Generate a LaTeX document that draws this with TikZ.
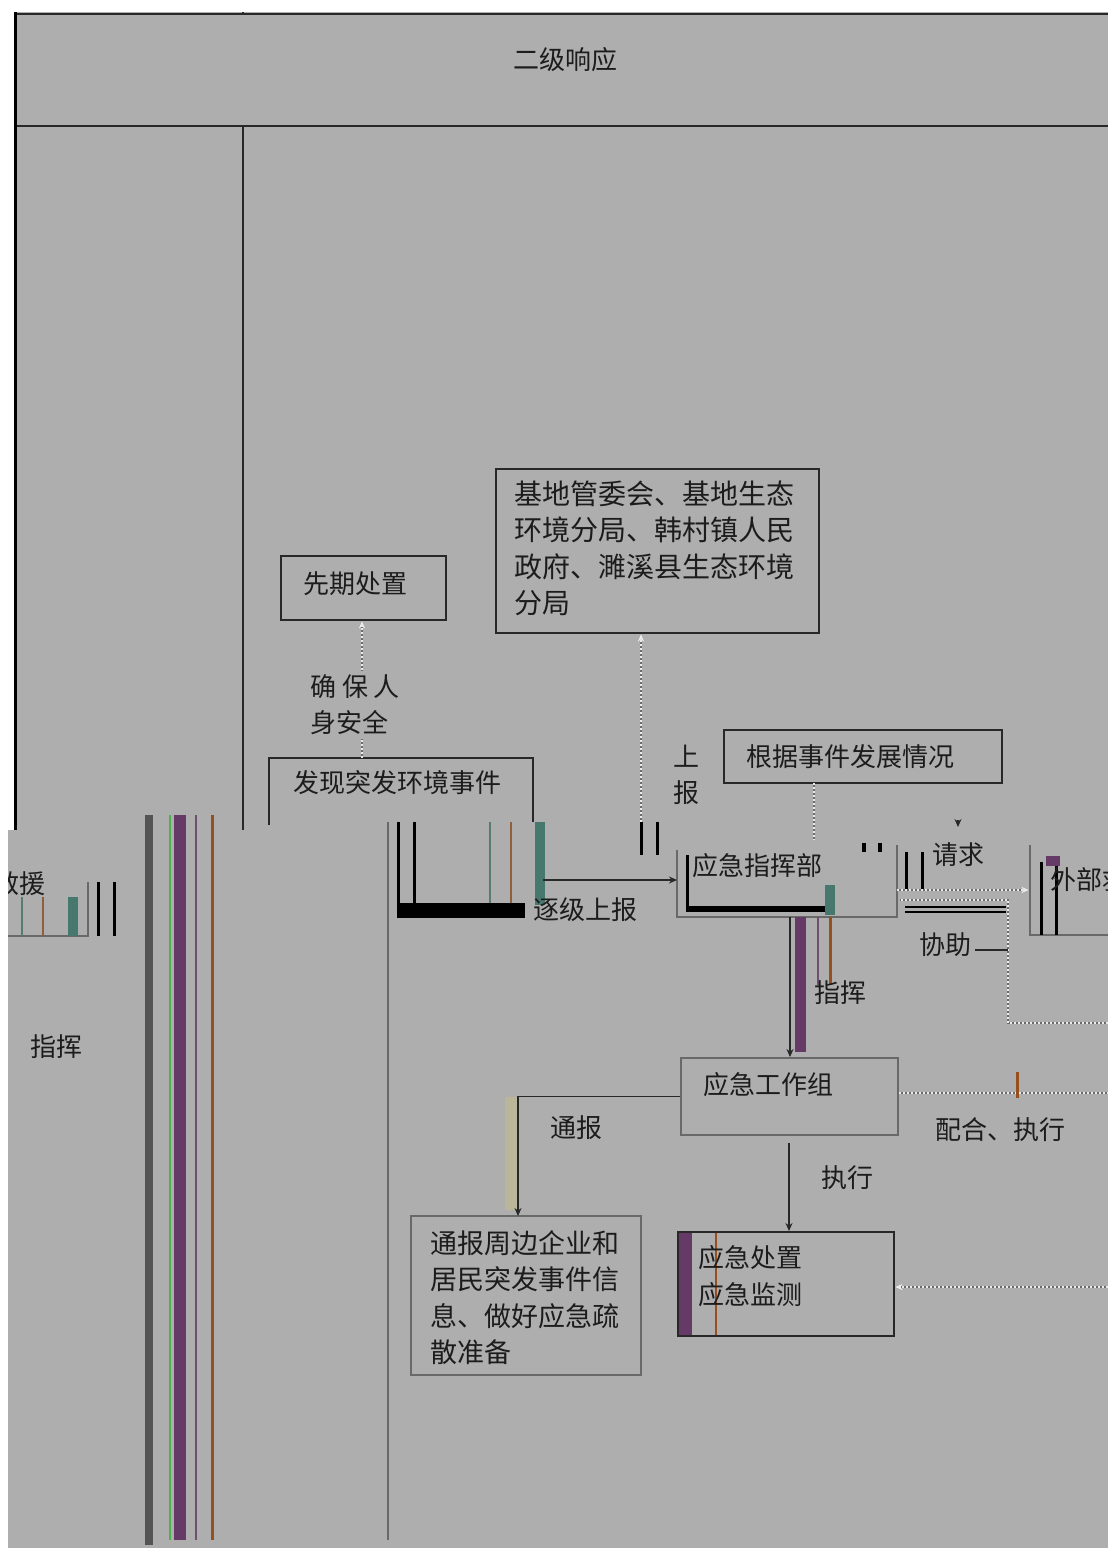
\documentclass[tikz,border=0pt]{standalone}
\usepackage{fontspec}
\setmainfont{Noto Sans CJK SC}
\usetikzlibrary{arrows.meta}
\definecolor{bg}{RGB}{174,174,174}
\definecolor{ink}{RGB}{28,28,28}
\definecolor{edge}{RGB}{40,40,40}
\definecolor{soft}{RGB}{105,105,105}
\definecolor{purp}{RGB}{102,58,102}
\definecolor{beige}{RGB}{186,182,154}
\definecolor{rust}{RGB}{150,80,30}
\definecolor{teal}{RGB}{70,120,110}
\tikzset{
  txt/.style={font=\fontsize{13}{18}\selectfont, text=ink, inner sep=0pt},
  box/.style={draw=edge, line width=1pt, inner sep=0pt},
  graybox/.style={draw=soft, line width=1pt, inner sep=0pt},
  solidline/.style={draw=edge, line width=0.7pt},
  tip/.style={-{Stealth[length=4pt,width=3.5pt]}},
  dotline/.style={draw=white!92!black, densely dotted, line width=1pt,
     preaction={draw=soft, solid, line width=1pt}},
  bar/.style={fill=#1, draw=none},
}
\begin{document}
\begin{tikzpicture}[x=0.5pt,y=-0.5pt]
\useasboundingbox (0,0) rectangle (1108,1548);
\fill[white] (0,0) rectangle (1108,1548);
\fill[bg] (14,12) rectangle (1108,830);
\fill[bg] (8,830) rectangle (1108,1548);

% table frame
\draw[edge, line width=1pt] (14,14) -- (1108,14);
\draw[edge, line width=1pt] (14,126) -- (1108,126);
\draw[black, line width=1.6pt] (15.5,12) -- (15.5,830);
\draw[edge, line width=0.7pt] (243,12) -- (243,14);
\draw[edge, line width=0.7pt] (243,126) -- (243,830);
\node[txt, font=\fontsize{13}{18}\selectfont] (title) at (565,60) {二级响应};

% glitch bars left
\fill[bar=soft!80!black] (145,815) rectangle (153,1545);
\fill[bar=green!40!gray] (169,815) rectangle (171,1540);
\fill[bar=purp] (174,815) rectangle (186,1540);
\fill[bar=purp!70!gray] (195,815) rectangle (197,1540);
\fill[bar=rust] (211,815) rectangle (214,1540);
\draw[soft, line width=0.8pt] (388,822) -- (388,1540);

% left partial box
\draw[soft, line width=1pt] (8,936) -- (88,936) -- (88,882);
\fill[bar=black] (97,882) rectangle (100,936);
\fill[bar=black] (113,882) rectangle (116,936);
\fill[bar=teal] (68,897) rectangle (78,936);
\fill[bar=rust!70!gray] (42,897) rectangle (44,936);
\fill[bar=teal!70!gray] (21,897) rectangle (23,936);
\begin{scope}
\clip (8,830) rectangle (1108,1548);
\node[txt, anchor=east] (jiuyuan) at (46,884) {救援};
\end{scope}
\node[txt] (zhihui1) at (57,1047) {指挥};

% 先期处置
\node[box, minimum width=82.5pt, minimum height=32pt] (xq) at (363.5,588) {};
\node[txt] (xqt) at (355,584) {先期处置};

% 基地... box
\node[box, minimum width=161.5pt, minimum height=82pt] (jd) at (657.5,551) {};
\node[txt, font=\fontsize{14}{18.3}\selectfont, anchor=north west, align=left] (jdt) at (514,480)
 {基地管委会、基地生态\\环境分局、韩村镇人民\\政府、濉溪县生态环境\\分局};

% 发现突发环境事件
\coordinate (fxbl) at (269,825);
\coordinate (fxtr) at (533,758);
\coordinate (fxbr) at (533,822);
\draw[edge, line width=1pt] (fxbl) |- (fxtr) -- (fxbr);
\node[txt] (fxt) at (397,783) {发现突发环境事件};
\fill[bar=black] (397,822) rectangle (400,905);
\fill[bar=black] (413,822) rectangle (416,905);
\fill[bar=black] (397,903) rectangle (525,918);
\fill[bar=teal!70!gray] (489,822) rectangle (491,903);
\fill[bar=rust!70!gray] (510,822) rectangle (512,903);
\fill[bar=teal] (535,822) rectangle (545,905);

% 根据事件发展情况
\node[box, minimum width=139pt, minimum height=26.5pt] (gj) at (863,756.5) {};
\node[txt] (gjt) at (850,757) {根据事件发展情况};

% 应急指挥部
\coordinate (zhtl) at (677,850);
\coordinate (zhbr) at (897,917);
\draw[soft, line width=1pt] (zhtl) |- (zhbr) -- (897,845);
\node[txt] (zht) at (757,866) {应急指挥部};
\fill[bar=black] (686,855) rectangle (689,910);
\fill[bar=black] (686,906) rectangle (830,912);
\fill[bar=black] (640,822) rectangle (643,855);
\fill[bar=black] (656,822) rectangle (659,855);
\fill[bar=black] (905,852) rectangle (908,890);
\fill[bar=black] (921,852) rectangle (924,890);
\fill[bar=black] (862,843) rectangle (866,852);
\fill[bar=black] (878,843) rectangle (882,852);
\fill[bar=teal] (825,885) rectangle (835,915);

% 外部救援力量
\coordinate (wbtl) at (1030,845);
\coordinate (wbbr) at (1108,935);
\draw[soft, line width=1pt] (wbtl) |- (wbbr);
\fill[bar=black] (1040,862) rectangle (1043,935);
\fill[bar=black] (1055,862) rectangle (1058,935);
\fill[bar=purp] (1046,856) rectangle (1060,866);
\node[txt, anchor=west] (wbt) at (1050,880) {外部救援力量};

% 应急工作组
\node[graybox, minimum width=108.5pt, minimum height=38.5pt] (gz) at (789.5,1096.5) {};
\node[txt] (gzt) at (768,1085) {应急工作组};
\fill[bar=purp] (795,917) rectangle (806,1052);
\fill[bar=purp!70!gray] (817,917) rectangle (819,985);
\fill[bar=rust] (829,917) rectangle (832,985);

% 通报周边...
\node[graybox, minimum width=115pt, minimum height=79.5pt] (tb) at (526,1295.5) {};
\node[txt, font=\fontsize{13.5}{18.2}\selectfont, anchor=north west, align=left] (tbt) at (430,1230)
 {通报周边企业和\\居民突发事件信\\息、做好应急疏\\散准备};
\fill[bar=beige] (505,1097) rectangle (517,1210);

% 应急处置 / 应急监测
\node[box, minimum width=108pt, minimum height=52pt] (yj) at (786,1284) {};
\fill[bar=purp] (679,1233) rectangle (692,1335);
\fill[bar=rust] (715,1233) rectangle (717,1335);
\node[txt, anchor=west, align=left, font=\fontsize{13}{18.5}\selectfont] (yjt) at (698,1276) {应急处置\\应急监测};

% connectors
\coordinate (fxtop) at (362,758);
\draw[dotline, tip] (fxtop) -- (fxtop |- xq.south);
\node[txt, fill=bg, align=left, inner sep=2pt] (aq) at (355,705) {确\ 保\ 人\\身安全};

\coordinate (sb) at (641,822);
\draw[dotline, tip] (sb) -- (sb |- jd.south);
\node[txt, align=center] (shangbao) at (686,775) {上\\报};

\coordinate (gjs) at (814,783);
\coordinate (gje) at (814,840);
\draw[dotline] (gjs) -- (gje);

\coordinate (fxo) at (543,880);
\coordinate (zhw) at (677,880);
\draw[solidline, tip] (fxo) -- (zhw);
\node[txt] (zjsb) at (585,910) {逐级上报};

\coordinate (zhs) at (790,917);
\draw[solidline, tip] (zhs) -- (zhs |- gz.north);
\node[txt] (zhihui2) at (840,993) {指挥};

\coordinate (zhe) at (897,890);
\coordinate (wbw) at (1029,890);
\draw[dotline, tip] (zhe) -- (wbw);
\node[txt] (qq) at (958,855) {请求};
\coordinate (qqtip) at (958,827);
\draw[solidline, tip] (958,820) -- (qqtip);

\coordinate (xz1) at (1108,1023);
\coordinate (xz2) at (1008,900);
\coordinate (xz3) at (900,900);
\draw[dotline] (xz1) -| (xz2) -- (xz3);
\draw[black, line width=1pt] (905,907) -- (1006,907);
\draw[black, line width=1pt] (905,912) -- (1006,912);
\node[txt] (xz) at (945,945) {协助};
\coordinate (xzl) at (975,950);
\coordinate (xzr) at (1008,950);
\draw[solidline] (xzl) -- (xzr);

\coordinate (tbn) at (518,1216);
\draw[solidline, tip] (gz.west) -| (tbn);
\node[txt] (tongbao) at (576,1128) {通报};

\coordinate (gzs) at (789,1143);
\draw[solidline, tip] (gzs) -- (gzs |- yj.north);
\node[txt] (zx) at (847,1178) {执行};

\coordinate (gzr) at (1108,1093);
\draw[dotline] (gz.east |- gzr) -- (gzr);
\node[txt] (phzx) at (1000,1130) {配合、执行};
\fill[bar=rust] (1016,1072) rectangle (1019,1098);

\coordinate (yr) at (1108,1287);
\draw[dotline, tip] (yr) -- (yr -| yj.east);
\end{tikzpicture}
\end{document}
